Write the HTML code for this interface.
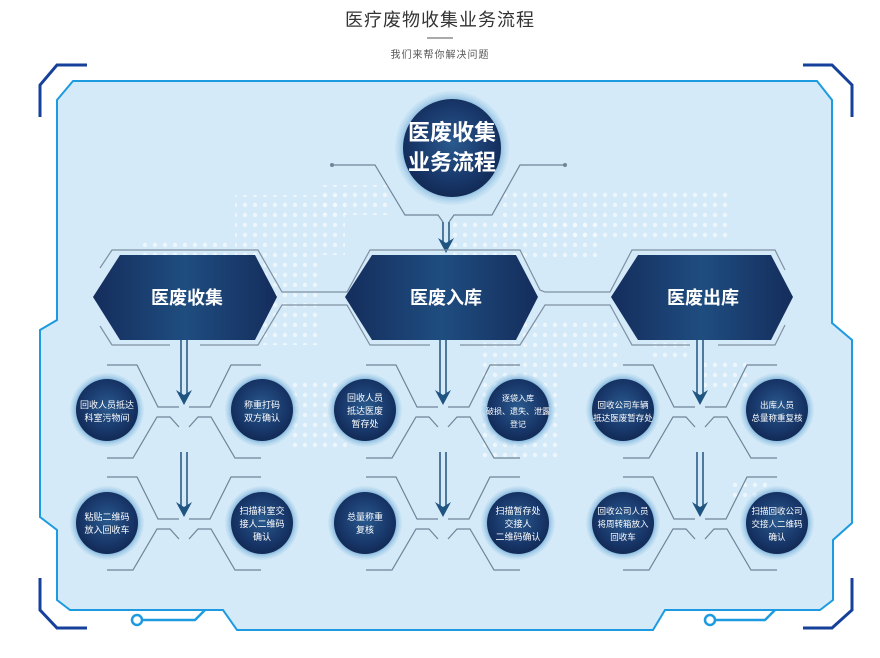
<!DOCTYPE html>
<html><head><meta charset="utf-8"><style>
html,body{margin:0;padding:0;background:#fff;}
svg{display:block;font-family:"Liberation Sans","Noto Sans CJK SC",sans-serif;}
</style></head><body>
<svg width="880" height="658" viewBox="0 0 880 658" xmlns="http://www.w3.org/2000/svg">
<defs>
<radialGradient id="cg" cx="50%" cy="45%" r="55%">
<stop offset="0" stop-color="#2a5a8e"/><stop offset="0.7" stop-color="#18376a"/><stop offset="1" stop-color="#122a55"/>
</radialGradient>
<radialGradient id="halo" cx="50%" cy="50%" r="50%">
<stop offset="0.8" stop-color="#6fa9d6"/><stop offset="1" stop-color="#b9daf0" stop-opacity="0.3"/>
</radialGradient>
<linearGradient id="hg" x1="0" y1="0" x2="1" y2="0">
<stop offset="0" stop-color="#142d5c"/><stop offset="0.5" stop-color="#1f4d80"/><stop offset="1" stop-color="#142d5c"/>
</linearGradient>
<pattern id="dots" width="10" height="10" patternUnits="userSpaceOnUse">
<circle cx="5" cy="5" r="2.2" fill="#fff" opacity="0.7"/>
</pattern>
<g id="conn" fill="none" stroke="#6f8598" stroke-width="1.2">
<path d="M-77,-45 H-47 L-26,-3 H-5 M-77,48 H-51 L-27,7 H-14 L-5,17"/>
<path d="M77,-45 H47 L26,-3 H5 M77,48 H51 L27,7 H14 L5,17"/>
</g>
<g id="arr">
<path d="M-3,0 V55 M3,0 V55" stroke="#2c5d86" stroke-width="1.6" fill="none"/>
<path d="M-8,50 L0,65 L8,50 L0,55 Z" fill="#1f5480"/>
</g>
</defs>

<text x="440" y="26" text-anchor="middle" font-size="18" fill="#333" letter-spacing="1">医疗废物收集业务流程</text>
<line x1="427" y1="38" x2="453" y2="38" stroke="#555" stroke-width="1"/>
<text x="440" y="58" text-anchor="middle" font-size="10" fill="#555" letter-spacing="1">我们来帮你解决问题</text>

<path d="M73,81 H817 L832,100 V323 L852,340 V523 L833,540 V600 L820,610 H665 L653,630 H237 L223,610 H70 L57,600 V530 L40,517 V330 L57,320 V100 Z" fill="#d4eaf8" stroke="#1e9be0" stroke-width="2"/>

<g fill="url(#dots)" opacity="0.8">
<rect x="140" y="240" width="90" height="30"/>
<rect x="235" y="195" width="110" height="60"/>
<rect x="260" y="255" width="60" height="90"/>
<rect x="320" y="185" width="70" height="30"/>
<rect x="500" y="190" width="230" height="50"/>
<rect x="450" y="220" width="150" height="40"/>
<rect x="480" y="320" width="80" height="140"/>
<rect x="560" y="320" width="60" height="50"/>
<rect x="650" y="330" width="40" height="30"/>
<rect x="700" y="360" width="50" height="30"/>
<rect x="290" y="380" width="60" height="70"/>
<rect x="730" y="480" width="40" height="20"/>
</g>

<g fill="none" stroke="#16409a" stroke-width="3">
<path d="M40,117 V85 L57,65 H87"/>
<path d="M803,65 H832 L852,85 V117"/>
<path d="M40,578 V610 L57,628 H87"/>
<path d="M852,578 V610 L832,628 H803"/>
</g>
<g fill="none" stroke="#1e9be0" stroke-width="2.5">
<circle cx="137" cy="620" r="5"/><path d="M142,620 H195 L205,610"/>
<circle cx="710" cy="620" r="5"/><path d="M715,620 H765 L775,610"/>
</g>

<g fill="none" stroke="#6f8598" stroke-width="1.2">
<path d="M332,165 H375 L405,215 H438 L443,222"/>
<path d="M565,165 H520 L492,215 H454 L449,222"/>
</g>
<circle cx="332" cy="165" r="2" fill="#6f8598"/><circle cx="565" cy="165" r="2" fill="#6f8598"/>
<path d="M443,222 V243 M449,222 V243" stroke="#2c5d86" stroke-width="1.6"/>
<path d="M438,238 L446,253 L454,238 L446,243 Z" fill="#1f5480"/>

<circle cx="452" cy="148" r="57" fill="url(#halo)"/>
<circle cx="452" cy="148" r="49" fill="url(#cg)"/>
<text x="452" y="140" text-anchor="middle" font-size="22" font-weight="bold" fill="#fff">医废收集</text>
<text x="452" y="170" text-anchor="middle" font-size="22" font-weight="bold" fill="#fff">业务流程</text>

<g fill="none" stroke="#7d90a2" stroke-width="1.2">
<path d="M100,268 L112,250 H258 L282,292 H347 L370,250 H520 L540,290 L545,292 H610 L632,250 H775 L785,270"/>
<path d="M100,326 L112,345 H170 M200,345 H258 L282,305 H347 L370,345 H430 M460,345 H520 L545,305 H610 L632,345 H690 M718,345 H775 L785,325"/>
</g>

<g fill="url(#hg)">
<path d="M93,297 L120,255 H255 L277,297 L255,340 H120 Z"/>
<path d="M345,297 L372,255 H516 L538,297 L516,340 H372 Z"/>
<path d="M611,297 L638,255 H771 L793,297 L771,340 H638 Z"/>
</g>
<g font-size="18" font-weight="bold" fill="#fff" text-anchor="middle">
<text x="187" y="304">医废收集</text>
<text x="446" y="304">医废入库</text>
<text x="703" y="304">医废出库</text>
</g>

<use href="#arr" x="184" y="340"/><use href="#arr" x="184" y="452"/>
<use href="#arr" x="443" y="340"/><use href="#arr" x="443" y="452"/>
<use href="#arr" x="700" y="340"/><use href="#arr" x="700" y="452"/>

<use href="#conn" x="184" y="410"/><use href="#conn" x="184" y="522"/>
<use href="#conn" x="443" y="410"/><use href="#conn" x="443" y="522"/>
<use href="#conn" x="700" y="410"/><use href="#conn" x="700" y="522"/>

<g>
<circle cx="107" cy="410" r="37" fill="url(#halo)"/><circle cx="107" cy="410" r="31" fill="url(#cg)"/>
<circle cx="262" cy="410" r="37" fill="url(#halo)"/><circle cx="262" cy="410" r="31" fill="url(#cg)"/>
<circle cx="107" cy="523" r="37" fill="url(#halo)"/><circle cx="107" cy="523" r="31" fill="url(#cg)"/>
<circle cx="262" cy="523" r="37" fill="url(#halo)"/><circle cx="262" cy="523" r="31" fill="url(#cg)"/>
<circle cx="365" cy="410" r="37" fill="url(#halo)"/><circle cx="365" cy="410" r="31" fill="url(#cg)"/>
<circle cx="518" cy="410" r="37" fill="url(#halo)"/><circle cx="518" cy="410" r="31" fill="url(#cg)"/>
<circle cx="365" cy="523" r="37" fill="url(#halo)"/><circle cx="365" cy="523" r="31" fill="url(#cg)"/>
<circle cx="518" cy="523" r="37" fill="url(#halo)"/><circle cx="518" cy="523" r="31" fill="url(#cg)"/>
<circle cx="623" cy="410" r="37" fill="url(#halo)"/><circle cx="623" cy="410" r="31" fill="url(#cg)"/>
<circle cx="777" cy="410" r="37" fill="url(#halo)"/><circle cx="777" cy="410" r="31" fill="url(#cg)"/>
<circle cx="623" cy="523" r="37" fill="url(#halo)"/><circle cx="623" cy="523" r="31" fill="url(#cg)"/>
<circle cx="777" cy="523" r="37" fill="url(#halo)"/><circle cx="777" cy="523" r="31" fill="url(#cg)"/>
</g>
<g font-size="9" fill="#fff" text-anchor="middle">
<text x="107" y="408">回收人员抵达</text><text x="107" y="421">科室污物间</text>
<text x="262" y="408">称重打码</text><text x="262" y="421">双方确认</text>
<text x="107" y="520">粘贴二维码</text><text x="107" y="533">放入回收车</text>
<text x="262" y="514">扫描科室交</text><text x="262" y="527">接人二维码</text><text x="262" y="540">确认</text>
<text x="365" y="401">回收人员</text><text x="365" y="414">抵达医废</text><text x="365" y="427">暂存处</text>
<text x="518" y="401" font-size="8">逐袋入库</text><text x="518" y="414" font-size="8">破损、遗失、泄露</text><text x="518" y="427" font-size="8">登记</text>
<text x="365" y="520">总量称重</text><text x="365" y="533">复核</text>
<text x="518" y="514">扫描暂存处</text><text x="518" y="527">交接人</text><text x="518" y="540">二维码确认</text>
<text x="623" y="408" font-size="8.5">回收公司车辆</text><text x="623" y="421" font-size="8.5">抵达医废暂存处</text>
<text x="777" y="408" font-size="8.5">出库人员</text><text x="777" y="421" font-size="8.5">总量称重复核</text>
<text x="623" y="514" font-size="8.5">回收公司人员</text><text x="623" y="527" font-size="8.5">将周转箱放入</text><text x="623" y="540" font-size="8.5">回收车</text>
<text x="777" y="514" font-size="8.5">扫描回收公司</text><text x="777" y="527" font-size="8.5">交接人二维码</text><text x="777" y="540" font-size="8.5">确认</text>
</g>
</svg>
</body></html>
